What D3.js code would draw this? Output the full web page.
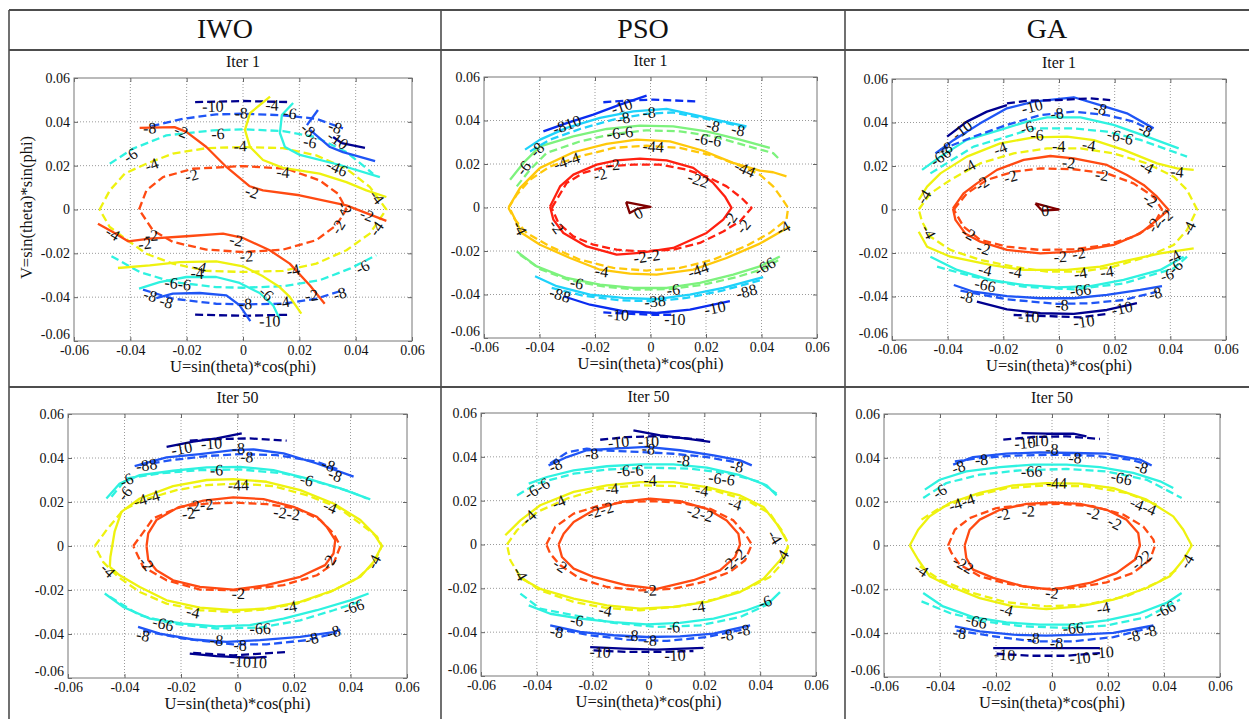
<!DOCTYPE html>
<html>
<head>
<meta charset="utf-8">
<script src="https://cdn.jsdelivr.net/npm/d3@7"></script>
<style>
body { margin: 0; background: #fff; }
svg { display: block; }
svg text { font-family: "Liberation Serif", "DejaVu Serif", "Times New Roman", serif; }
</style>
</head>
<body>
<script>
// column headers and panel titles
var methods = ['IWO', 'PSO', 'GA'];
var iterTitles = ['Iter 1', 'Iter 50'];
var tickVals = [-0.06, -0.04, -0.02, 0, 0.02, 0.04, 0.06];
var tickLabels = ['-0.06', '-0.04', '-0.02', '0', '0.02', '0.04', '0.06'];
var gridVals = [-0.04, -0.02, 0, 0.02, 0.04];
var xTitle = 'U=sin(theta)*cos(phi)';
var yTitle = 'V=sin(theta)*sin(phi)';
var serif = '"Liberation Serif", "DejaVu Serif", "Times New Roman", serif';

// contours: [level, 's' solid | 'd' dashed, [[u,v],...]]
var iwo1Contours = [
  [-10, 'd', [[-0.017, 0.049], [0, 0.0495], [0.017, 0.049]]],
  [-10, 'd', [[-0.017, -0.048], [0, -0.0485], [0.017, -0.048]]],
  [-8, 'd', [[-0.0325, 0.038], [-0.0213, 0.0414], [-0.0095, 0.0434], [0, 0.0437], [0.0142, 0.043], [0.026, 0.0414], [0.0355, 0.037]]],
  [-8, 'd', [[-0.0355, -0.0366], [-0.0249, -0.0407], [-0.0095, -0.043], [0, -0.0433], [0.0142, -0.043], [0.026, -0.0407], [0.0361, -0.0366]]],
  [-6, 'd', [[-0.0473, 0.0209], [-0.039, 0.0278], [-0.0272, 0.0338], [-0.0107, 0.0361], [0, 0.0366], [0.0142, 0.0358], [0.026, 0.033], [0.0367, 0.0262], [0.0462, 0.0163]]],
  [-6, 'd', [[-0.0467, -0.0213], [-0.0367, -0.0285], [-0.0249, -0.0331], [-0.0095, -0.0354], [0, -0.0357], [0.0142, -0.035], [0.0272, -0.0323], [0.0379, -0.027], [0.0473, -0.0209]]],
  [-4, 'd', [[-0.0509, 0], [-0.0473, 0.0087], [-0.042, 0.0164], [-0.0343, 0.0209], [-0.0249, 0.0255], [-0.013, 0.028], [0, 0.0285], [0.0142, 0.028], [0.026, 0.0247], [0.0367, 0.0186], [0.045, 0.0103], [0.0509, 0], [0.045, -0.011], [0.0367, -0.0186], [0.026, -0.0247], [0.0142, -0.028], [0, -0.0285], [-0.013, -0.028], [-0.0249, -0.0247], [-0.0343, -0.0202], [-0.0426, -0.0125], [-0.0473, -0.008], [-0.0509, 0]]],
  [-2, 'd', [[-0.0369, 0], [-0.0343, 0.0087], [-0.0284, 0.0148], [-0.0178, 0.0186], [0, 0.0198], [0.0154, 0.0186], [0.0272, 0.0133], [0.0337, 0.0072], [0.0367, 0], [0.0331, -0.0072], [0.026, -0.014], [0.0142, -0.0183], [0, -0.0194], [-0.013, -0.0183], [-0.0249, -0.0148], [-0.032, -0.0095], [-0.0369, 0]]],
  [-2, 's', [[-0.0367, 0.0372], [-0.0243, 0.0376], [-0.0201, 0.0354], [-0.013, 0.0285], [-0.0059, 0.0194], [0.0024, 0.0106], [0.0071, 0.0087], [0.0201, 0.0065], [0.0367, 0.0019], [0.0509, -0.0052]]],
  [-2, 's', [[-0.0515, -0.0065], [-0.0462, -0.0103], [-0.0408, -0.0145], [-0.0331, -0.0133], [-0.0201, -0.0122], [-0.0071, -0.011], [0, -0.013], [0.0095, -0.0186], [0.0166, -0.0247], [0.0237, -0.0346], [0.029, -0.043]]],
  [-4, 's', [[0.0096, 0.0515], [0.0025, 0.044], [0.0007, 0.0363], [0.0025, 0.0285], [0.0071, 0.0226], [0.0142, 0.019], [0.0272, 0.0164], [0.0367, 0.0125], [0.0438, 0.0087], [0.0509, 0.0057]]],
  [-4, 's', [[-0.0444, -0.0267], [-0.0331, -0.0255], [-0.0225, -0.024], [-0.0095, -0.0237], [0, -0.0259], [0.0071, -0.0305], [0.013, -0.0354], [0.0166, -0.0399], [0.0207, -0.0475]]],
  [-6, 's', [[0.0178, 0.0486], [0.0138, 0.0431], [0.0131, 0.0349], [0.0149, 0.0285], [0.0202, 0.0249], [0.0344, 0.0203], [0.0486, 0.0148]]],
  [-6, 's', [[-0.0369, -0.0361], [-0.0296, -0.0331], [-0.0201, -0.0308], [-0.0095, -0.0308], [-0.0012, -0.0335], [0.0059, -0.0381], [0.0107, -0.0437], [0.013, -0.0498]]],
  [-8, 's', [[0.0238, 0.0363], [0.0309, 0.0285], [0.0355, 0.0262], [0.0469, 0.0221]]],
  [-8, 's', [[0.0266, 0.0454], [0.0227, 0.0385]]],
  [-8, 's', [[-0.0308, -0.0404], [-0.0249, -0.0384], [-0.0154, -0.0381], [-0.0059, -0.0392], [-0.0012, -0.0437], [0.0026, -0.0509]]],
  [-10, 's', [[0.032, 0.0331], [0.0351, 0.0303], [0.0433, 0.0281]]]
];
var iwo1Labels = [
  ['-10', -0.0107, 0.0471], ['-8', -0.0006, 0.044], ['-8', -0.0331, 0.0372], ['-2', -0.0219, 0.0357],
  ['-6', -0.0089, 0.0346], ['-4', -0.001, 0.029], ['-6', -0.04, 0.0247], ['-4', -0.0325, 0.0205],
  ['-2', -0.0183, 0.0156], ['-4', 0.0103, 0.0477], ['-6', 0.0167, 0.044], ['-8', 0.0231, 0.0363],
  ['-6', 0.0238, 0.0308], ['-8', 0.0327, 0.0376], ['-10', 0.0337, 0.0317], ['-4', 0.0142, 0.0171],
  ['-46', 0.0334, 0.019], ['-2', 0.0032, 0.008], ['-4', 0.0476, 0.0057], ['-2', 0.0362, 0.0007],
  ['-2', 0.044, -0.0025], ['-4', 0.0473, -0.0087], ['-2', 0.0337, -0.008], ['-4', -0.0462, -0.011],
  ['-2', -0.0325, -0.0118], ['-2', -0.0349, -0.0156], ['-2', -0.0024, -0.014], ['-2', 0.0012, -0.0213],
  ['-4', -0.0154, -0.0262], ['-4', -0.0163, -0.0293], ['-6', 0.0424, -0.0262], ['-6-6', -0.0231, -0.0338],
  ['-4', 0.0178, -0.0277], ['-6', 0.0083, -0.0384], ['-4', 0.0142, -0.0422], ['-2', 0.0243, -0.0392],
  ['-8', 0.0343, -0.0384], ['-8', -0.0329, -0.0392], ['-8', -0.0272, -0.0422], ['-8', 0.0009, -0.043],
  ['-10', 0.0095, -0.0509]
];

var pso1Contours = [
  [-2, 's', [[-0.0362, 0.0005], [-0.0326, 0.0097], [-0.0278, 0.0151], [-0.0194, 0.0197], [-0.0122, 0.0217], [-0.0038, 0.0225], [0.0058, 0.0217], [0.0154, 0.0182], [0.0226, 0.0113], [0.0268, 0.0051], [0.0292, -0.0002], [0.0262, -0.0056], [0.0202, -0.0117], [0.0082, -0.0186], [-0.0038, -0.0209], [-0.0122, -0.0217], [-0.023, -0.0179], [-0.0314, -0.0117], [-0.035, -0.0056], [-0.0362, 0.0005]]],
  [-2, 'd', [[-0.0356, -0.0002], [-0.0302, 0.0113], [-0.0242, 0.0159], [-0.0158, 0.0189], [-0.0062, 0.0197], [0.0034, 0.0197], [0.013, 0.0174], [0.0202, 0.0143], [0.0274, 0.0097], [0.0328, 0.0044], [0.0364, -0.0002], [0.0322, -0.0064], [0.0262, -0.011], [0.0178, -0.0163], [0.0082, -0.0194], [-0.0038, -0.0202], [-0.0122, -0.0194], [-0.0206, -0.0171], [-0.0278, -0.0133], [-0.0332, -0.0071], [-0.0356, -0.0002]]],
  [-4, 's', [[-0.0509, 0.0005], [-0.047, 0.009], [-0.0398, 0.0182], [-0.0278, 0.0254], [-0.0158, 0.0293], [-0.005, 0.0312], [0.007, 0.0304], [0.019, 0.0261], [0.0298, 0.0205], [0.0394, 0.017], [0.0442, 0.0162], [0.049, 0.0143]]],
  [-4, 's', [[-0.0504, -0.0013], [-0.0464, -0.0117], [-0.0398, -0.0171], [-0.029, -0.0232], [-0.0182, -0.0286], [-0.0074, -0.0304], [0.0022, -0.0309], [0.0154, -0.0286], [0.0274, -0.0232], [0.0394, -0.0166], [0.0502, -0.0087]]],
  [-4, 'd', [[-0.0512, -0.0002], [-0.0482, 0.0059], [-0.0434, 0.0128], [-0.0362, 0.0189], [-0.0254, 0.0235], [-0.0134, 0.0274], [-0.0014, 0.0284], [0.0106, 0.0274], [0.0226, 0.0238], [0.0322, 0.0192], [0.0394, 0.0151], [0.0442, 0.0097], [0.0472, 0.0044], [0.0496, -0.0002], [0.049, -0.0056], [0.043, -0.0117], [0.0346, -0.0176], [0.0226, -0.024], [0.0106, -0.0278], [-0.0014, -0.029], [-0.0134, -0.0278], [-0.0254, -0.024], [-0.0362, -0.0179], [-0.0446, -0.0117], [-0.0488, -0.0056], [-0.0512, -0.0002]]],
  [-6, 's', [[-0.0506, 0.0128], [-0.0458, 0.0205], [-0.0398, 0.0281], [-0.0278, 0.0327], [-0.0158, 0.0361], [-0.0038, 0.0376], [0.0082, 0.0373], [0.0202, 0.035], [0.0322, 0.0312], [0.043, 0.0274]]],
  [-6, 'd', [[-0.0482, 0.0097], [-0.0434, 0.0174], [-0.0374, 0.0251], [-0.0254, 0.0304], [-0.0134, 0.0338], [-0.0014, 0.0355], [0.0106, 0.035], [0.0226, 0.0327], [0.0346, 0.0284], [0.0442, 0.025], [0.0466, 0.022]]],
  [-6, 's', [[-0.0482, -0.0202], [-0.041, -0.0271], [-0.0302, -0.0324], [-0.0182, -0.0355], [-0.0062, -0.037], [0.0058, -0.037], [0.0178, -0.0347], [0.0298, -0.0309], [0.0394, -0.0271], [0.0466, -0.0225]]],
  [-6, 'd', [[-0.047, -0.0217], [-0.0398, -0.0283], [-0.029, -0.0335], [-0.017, -0.0363], [-0.005, -0.0378], [0.007, -0.0375], [0.019, -0.0355], [0.031, -0.032], [0.0406, -0.0283], [0.046, -0.0243]]],
  [-8, 's', [[-0.0452, 0.0266], [-0.0398, 0.0312], [-0.0302, 0.0366], [-0.0182, 0.0412], [-0.0062, 0.0442], [0.0058, 0.0453], [0.0154, 0.0427], [0.0262, 0.0396], [0.0346, 0.0373]]],
  [-8, 'd', [[-0.0434, 0.0258], [-0.0362, 0.0312], [-0.0254, 0.0361], [-0.0134, 0.0404], [-0.0014, 0.0431], [0.0082, 0.0437], [0.0202, 0.0407], [0.0298, 0.0381], [0.0352, 0.0366]]],
  [-8, 's', [[-0.0416, -0.0316], [-0.0338, -0.0362], [-0.0218, -0.0401], [-0.0098, -0.0416], [0.0022, -0.0421], [0.0142, -0.0401], [0.0262, -0.037], [0.0406, -0.032]]],
  [-8, 'd', [[-0.0356, -0.037], [-0.0242, -0.0406], [-0.011, -0.0427], [0.001, -0.0431], [0.013, -0.0416], [0.0262, -0.0381], [0.0394, -0.0335]]],
  [-10, 's', [[-0.0386, 0.035], [-0.0302, 0.0388], [-0.0206, 0.0427], [-0.011, 0.0473], [-0.0014, 0.0514]]],
  [-10, 'd', [[-0.017, 0.0484], [-0.0086, 0.0491], [0.001, 0.0496], [0.0166, 0.0488]]],
  [-10, 's', [[-0.0314, -0.0408], [-0.0218, -0.0447], [-0.0098, -0.0477], [0.0022, -0.0485], [0.0142, -0.047], [0.0286, -0.0431]]],
  [-10, 'd', [[-0.017, -0.0482], [-0.0086, -0.0488], [0.001, -0.0493], [0.0082, -0.0493]]],
  [0, 's', [[-0.0088, 0.0025], [0, 0.0003], [-0.0045, -0.0005], [-0.0075, -0.0025], [-0.0088, 0.0025]]]
];
var pso1Labels = [
  ['-10', -0.0104, 0.0465], ['-8', -0.0005, 0.0437], ['-810', -0.0302, 0.0381], ['-8', -0.0098, 0.0411],
  ['-8', 0.0226, 0.0376], ['-8', 0.0316, 0.0357], ['-6-6', -0.011, 0.0343], ['-6-6', 0.0208, 0.0312],
  ['-8', -0.041, 0.0266], ['-6', -0.0458, 0.0182], ['-44', 0.001, 0.0281], ['-4-4', -0.0302, 0.0214],
  ['-2', -0.0134, 0.0197], ['-2', -0.0182, 0.0151], ['-22', 0.0172, 0.0128], ['-44', 0.034, 0.0177],
  ['0', -0.0044, -0.0026], ['-2', 0.0286, -0.0056], ['-2', 0.0334, -0.0087], ['-4', 0.0478, -0.0094],
  ['-4', -0.047, -0.0094], ['-2', -0.0338, -0.0087], ['-2-2', -0.0014, -0.0225], ['-4', -0.0176, -0.0293],
  ['-44', 0.0172, -0.0286], ['-66', 0.0412, -0.0271], ['-6', -0.0266, -0.0347], ['-88', -0.0326, -0.0401],
  ['-6', 0.0082, -0.0378], ['-88', 0.0346, -0.0386], ['-38', 0.0016, -0.0431], ['-10', -0.0116, -0.0493],
  ['-10', 0.0088, -0.0513], ['-10', 0.0232, -0.0462]
];

var ga1Contours = [
  [-2, 's', [[-0.0381, 0.0005], [-0.0343, 0.0074], [-0.0295, 0.012], [-0.0223, 0.0182], [-0.0127, 0.0228], [-0.0031, 0.0246], [0.0053, 0.0235], [0.0172, 0.0205], [0.0244, 0.0159], [0.0304, 0.0113], [0.0352, 0.0059], [0.0394, -0.0002], [0.0352, -0.0048], [0.0292, -0.011], [0.0196, -0.0163], [0.0053, -0.0194], [-0.0067, -0.0202], [-0.0187, -0.0186], [-0.0283, -0.0148], [-0.0337, -0.011], [-0.0372, -0.0048], [-0.0381, 0.0005]]],
  [-2, 'd', [[-0.0378, 0], [-0.0331, 0.0074], [-0.0259, 0.0136], [-0.0163, 0.0174], [-0.0067, 0.0189], [0.0053, 0.0185], [0.0172, 0.0166], [0.0268, 0.012], [0.034, 0.0059], [0.037, 0], [0.034, -0.0071], [0.0268, -0.0125], [0.0172, -0.0163], [0.0053, -0.0183], [-0.0067, -0.0186], [-0.0187, -0.0171], [-0.0283, -0.014], [-0.0343, -0.0079], [-0.0378, 0]]],
  [-4, 's', [[-0.0504, 0.0044], [-0.0474, 0.0105], [-0.0426, 0.0166], [-0.0331, 0.0243], [-0.0211, 0.0304], [-0.0091, 0.0332], [0.0029, 0.0335], [0.0125, 0.0319], [0.0232, 0.0274], [0.0352, 0.0212], [0.0424, 0.0189], [0.0484, 0.0182]]],
  [-4, 's', [[-0.0504, -0.0102], [-0.0474, -0.0171], [-0.039, -0.0217], [-0.0247, -0.0255], [-0.0127, -0.0278], [0.0029, -0.0278], [0.0148, -0.0263], [0.0256, -0.0232], [0.0364, -0.0202], [0.0484, -0.0179]]],
  [-4, 'd', [[-0.0504, 0], [-0.0462, 0.0074], [-0.039, 0.0136], [-0.0283, 0.0212], [-0.0163, 0.0258], [-0.0043, 0.0281], [0.0077, 0.0281], [0.0196, 0.0258], [0.0316, 0.0212], [0.0412, 0.0151], [0.046, 0.009], [0.0496, 0], [0.046, -0.0094], [0.0412, -0.0163], [0.0316, -0.0217], [0.0196, -0.0263], [0.0077, -0.0286], [-0.0043, -0.0286], [-0.0163, -0.0263], [-0.0283, -0.0232], [-0.039, -0.0186], [-0.0462, -0.0125], [-0.0492, -0.0056], [-0.0504, 0]]],
  [-6, 's', [[-0.0492, 0.0182], [-0.0426, 0.0243], [-0.0331, 0.032], [-0.0211, 0.0366], [-0.0115, 0.0404], [-0.0043, 0.0424], [0.0077, 0.0424], [0.0196, 0.0389], [0.0316, 0.0335], [0.043, 0.0281]]],
  [-6, 'd', [[-0.0462, 0.0166], [-0.0307, 0.0289], [-0.0187, 0.0335], [-0.0091, 0.0373], [0.0053, 0.0373], [0.0172, 0.0358], [0.0292, 0.032], [0.046, 0.0243]]],
  [-6, 's', [[-0.0462, -0.0217], [-0.0366, -0.0278], [-0.0247, -0.0324], [-0.0127, -0.0347], [-0.0007, -0.0358], [0.0113, -0.0352], [0.0232, -0.0324], [0.0364, -0.0278], [0.0448, -0.0217]]],
  [-6, 'd', [[-0.0438, -0.0263], [-0.0307, -0.0309], [-0.0127, -0.0355], [0.0053, -0.0367], [0.0232, -0.034], [0.0412, -0.0271], [0.046, -0.0217]]],
  [-8, 's', [[-0.0444, 0.0258], [-0.0378, 0.032], [-0.0283, 0.0396], [-0.0187, 0.0465], [-0.0091, 0.0496], [0.0053, 0.0516], [0.0148, 0.048], [0.0244, 0.0442], [0.034, 0.0373]]],
  [-8, 'd', [[-0.0426, 0.0274], [-0.0307, 0.0335], [-0.0187, 0.0389], [-0.0067, 0.0434], [0.0053, 0.045], [0.0172, 0.0434], [0.0268, 0.0404], [0.0328, 0.0366]]],
  [-8, 's', [[-0.0378, -0.0347], [-0.0307, -0.0378], [-0.0187, -0.0398], [-0.0067, -0.0408], [0.0053, -0.0408], [0.0172, -0.0393], [0.0292, -0.037], [0.037, -0.0352]]],
  [-8, 'd', [[-0.0354, -0.0373], [-0.0187, -0.0413], [-0.0007, -0.0434], [0.0113, -0.0431], [0.0232, -0.0416], [0.0352, -0.0378]]],
  [-10, 's', [[-0.0402, 0.0335], [-0.0331, 0.0404], [-0.0259, 0.045], [-0.0187, 0.048]]],
  [-10, 'd', [[-0.0187, 0.0488], [-0.0115, 0.05], [-0.0007, 0.0503], [0.0113, 0.0511], [0.0184, 0.0503]]],
  [-10, 's', [[-0.0295, -0.0424], [-0.0187, -0.0459], [-0.0067, -0.0477], [0.0053, -0.048], [0.0172, -0.0462], [0.028, -0.0431]]],
  [-10, 'd', [[-0.0163, -0.0485], [-0.0043, -0.049], [0.0077, -0.0496], [0.0172, -0.048]]],
  [0, 's', [[-0.0085, 0.0028], [-0.0001, 0], [-0.0061, -0.0005], [-0.0085, 0.0028]]]
];
var ga1Labels = [
  ['-10', -0.0097, 0.0473], ['-8', 0.0148, 0.0465], ['-8', -0.0007, 0.0442], ['-10', -0.0349, 0.0366],
  ['-8', -0.0408, 0.0281], ['-6', -0.0115, 0.0377], ['-6', -0.0079, 0.0343], ['-6-6', 0.022, 0.0335],
  ['-8', 0.031, 0.0366], ['-66', -0.0426, 0.0243], ['-4', -0.0211, 0.0281], ['-4', -0.0001, 0.0289],
  ['-4', 0.0107, 0.0297], ['-4', -0.0325, 0.0197], ['-2', 0.0035, 0.0215], ['-2', -0.0175, 0.0151],
  ['-2', -0.0277, 0.012], ['-2', 0.0154, 0.0159], ['-4', 0.0316, 0.0197], ['-4', 0.0424, 0.0174],
  ['-4', -0.0486, 0.0059], ['-2', 0.0328, 0.0044], ['-2', 0.0382, -0.0033], ['-2', 0.034, -0.0071],
  ['-4', 0.0466, -0.0087], ['-4', -0.0468, -0.0102], ['-2', -0.0325, -0.011], ['-2', -0.0271, -0.0179],
  ['-2', 0.0005, -0.0217], ['-2', 0.0071, -0.0202], ['-4', 0.0412, -0.0217], ['-6', 0.0418, -0.0263],
  ['-6', 0.0388, -0.0301], ['-4', -0.0265, -0.0278], ['-4', -0.0157, -0.0286], ['-4', 0.0077, -0.0293],
  ['-4', 0.0172, -0.0286], ['-66', -0.0265, -0.0347], ['-66', 0.0077, -0.037], ['-8', -0.0331, -0.0401],
  ['-8', 0.0011, -0.0439], ['-8', 0.0346, -0.0386], ['-10', -0.0109, -0.0493], ['-10', 0.0089, -0.0516],
  ['-10', 0.0226, -0.0454], ['0', -0.005, -0.0005]
];

var iwo50Contours = [
  [-2, 's', [[-0.0322, 0], [-0.0316, 0.0057], [-0.0287, 0.0118], [-0.0216, 0.0171], [-0.0121, 0.0206], [-0.0015, 0.0221], [0.0092, 0.0213], [0.0198, 0.0178], [0.0281, 0.0133], [0.0316, 0.0087], [0.0346, 0.0027], [0.034, -0.0034], [0.031, -0.0087], [0.0222, -0.014], [0.0103, -0.0178], [-0.0015, -0.0198], [-0.0133, -0.0186], [-0.0228, -0.0156], [-0.0287, -0.011], [-0.0316, -0.0064], [-0.0322, 0]]],
  [-2, 'd', [[-0.0369, 0], [-0.0328, 0.0072], [-0.0299, 0.0125], [-0.0204, 0.0178], [-0.0109, 0.0193], [-0.0003, 0.0197], [0.0103, 0.019], [0.021, 0.0171], [0.0293, 0.0118], [0.034, 0.0057], [0.0364, 0], [0.034, -0.008], [0.0281, -0.0133], [0.0163, -0.0178], [0.0009, -0.0201], [-0.0133, -0.0198], [-0.0251, -0.0156], [-0.0334, -0.0095], [-0.0369, 0]]],
  [-4, 's', [[-0.0452, -0.0095], [-0.045, -0.005], [-0.0435, 0.0065], [-0.0411, 0.0155], [-0.0346, 0.0216], [-0.0228, 0.0272], [-0.0109, 0.03], [-0.0015, 0.0304], [0.0103, 0.0292], [0.0222, 0.0254], [0.034, 0.0193], [0.0435, 0.0118], [0.0482, 0.0057], [0.0511, 0], [0.0482, -0.0072], [0.0435, -0.014], [0.034, -0.0201], [0.0222, -0.0254], [0.0103, -0.0284], [-0.0015, -0.0292], [-0.0133, -0.028], [-0.0251, -0.0247], [-0.0346, -0.0186], [-0.0417, -0.0133], [-0.0452, -0.0095]]],
  [-4, 'd', [[-0.0505, 0], [-0.0464, 0.0072], [-0.0405, 0.0163], [-0.0334, 0.0209], [-0.0216, 0.0254], [-0.0109, 0.0277], [0.0009, 0.0284], [0.0127, 0.0272], [0.0245, 0.0231], [0.0352, 0.0178], [0.0435, 0.0102], [0.0494, 0.0042], [0.0511, 0], [0.0482, -0.008], [0.0423, -0.0148], [0.0328, -0.0209], [0.021, -0.0262], [0.0092, -0.0289], [-0.0015, -0.03], [-0.0133, -0.0292], [-0.0251, -0.0262], [-0.0346, -0.0209], [-0.0423, -0.014], [-0.0476, -0.0072], [-0.0505, 0]]],
  [-6, 's', [[-0.0464, 0.0216], [-0.0417, 0.0284], [-0.0346, 0.0322], [-0.0228, 0.0342], [-0.0109, 0.0357], [0.0009, 0.036], [0.0127, 0.0345], [0.0245, 0.0307], [0.0364, 0.0262], [0.047, 0.0212]]],
  [-6, 'd', [[-0.0446, 0.0224], [-0.0393, 0.0307], [-0.0275, 0.033], [-0.0133, 0.0345], [0.0009, 0.0348], [0.0163, 0.033], [0.0281, 0.0292], [0.0399, 0.0247], [0.0458, 0.0216]]],
  [-6, 's', [[-0.047, -0.0216], [-0.0405, -0.0277], [-0.031, -0.033], [-0.0192, -0.0353], [-0.0074, -0.0365], [0.0044, -0.036], [0.0163, -0.033], [0.0281, -0.0292], [0.0399, -0.0247], [0.0464, -0.0216]]],
  [-6, 'd', [[-0.0452, -0.0231], [-0.0346, -0.0315], [-0.0228, -0.0353], [-0.0074, -0.0375], [0.008, -0.0371], [0.0222, -0.0338], [0.034, -0.0292], [0.0446, -0.0247]]],
  [-8, 's', [[-0.0364, 0.0363], [-0.0251, 0.0403], [-0.0133, 0.0418], [-0.0015, 0.0436], [0.0056, 0.0439], [0.0163, 0.0421], [0.0281, 0.0375], [0.0411, 0.0315]]],
  [-8, 'd', [[-0.0346, 0.0368], [-0.0228, 0.0391], [-0.0109, 0.0409], [0.0009, 0.0418], [0.0139, 0.0413], [0.0281, 0.0383], [0.0364, 0.0345]]],
  [-8, 's', [[-0.0352, -0.0368], [-0.0275, -0.0398], [-0.0157, -0.0425], [-0.0038, -0.0436], [0.008, -0.0428], [0.0222, -0.0413], [0.034, -0.0391], [0.0364, -0.038]]],
  [-8, 'd', [[-0.0334, -0.0386], [-0.0192, -0.0421], [-0.0015, -0.0447], [0.0103, -0.0447], [0.0245, -0.0428], [0.0352, -0.0395]]],
  [-10, 's', [[-0.0251, 0.0451], [-0.0157, 0.0474], [-0.0074, 0.0489], [0.0015, 0.0512]]],
  [-10, 'd', [[-0.0169, 0.0479], [-0.0074, 0.0486], [0.0044, 0.0489], [0.0174, 0.0479]]],
  [-10, 's', [[-0.0169, -0.0489], [-0.0074, -0.0501], [0.0044, -0.0508], [0.0103, -0.0504]]],
  [-10, 'd', [[-0.0157, -0.0486], [-0.0015, -0.0497], [0.0174, -0.0482]]]
];
var iwo50Labels = [
  ['-10', -0.0198, 0.0443], ['-10', -0.0092, 0.0466], ['-8', 0.0003, 0.0444], ['-8', 0.0033, 0.0406],
  ['-88', -0.0322, 0.0368], ['-8', 0.0322, 0.0368], ['-8', 0.0346, 0.0322], ['-6', -0.0074, 0.0345],
  ['-6', 0.0245, 0.03], ['-6', -0.0393, 0.03], ['-6', -0.0399, 0.0239], ['-4-4', -0.0322, 0.0216],
  ['-44', 0.0003, 0.0277], ['-4', 0.0328, 0.0178], ['-2-2', -0.0133, 0.0186], ['-2', -0.0174, 0.0148],
  ['-2-2', 0.0174, 0.0148], ['-2', 0.0322, -0.0072], ['-4', 0.0482, -0.0072], ['-4', -0.0458, -0.011],
  ['-2', -0.0322, -0.008], ['-2', 0.0003, -0.0216], ['-4', -0.0157, -0.03], ['-4', 0.0186, -0.0277],
  ['-66', 0.0411, -0.0277], ['-66', -0.0263, -0.0353], ['-66', 0.008, -0.0375], ['-8', -0.0334, -0.0406],
  ['-8', -0.0074, -0.0428], ['-8', 0.0009, -0.0451], ['-8', 0.0263, -0.0421], ['-8', 0.034, -0.039],
  ['-1010', 0.0038, -0.0527]
];

var pso50Contours = [
  [-2, 's', [[-0.0322, 0], [-0.0304, 0.0049], [-0.0268, 0.0103], [-0.0197, 0.0156], [-0.0101, 0.0194], [0.0006, 0.0209], [0.0113, 0.0198], [0.0209, 0.0163], [0.028, 0.011], [0.0322, 0.0049], [0.0328, 0], [0.031, -0.0057], [0.0256, -0.0118], [0.0161, -0.0163], [0.003, -0.0202], [-0.0078, -0.0186], [-0.0197, -0.0148], [-0.0268, -0.011], [-0.031, -0.0057], [-0.0322, 0]]],
  [-2, 'd', [[-0.0366, 0], [-0.0334, 0.008], [-0.0268, 0.0141], [-0.0173, 0.0179], [-0.0078, 0.0194], [0.0018, 0.0198], [0.0113, 0.019], [0.0221, 0.0163], [0.0304, 0.011], [0.0346, 0.0049], [0.037, 0], [0.0346, -0.0072], [0.0292, -0.0125], [0.0197, -0.0171], [0.0089, -0.0202], [-0.003, -0.0209], [-0.0149, -0.0194], [-0.0245, -0.0156], [-0.0316, -0.0095], [-0.0352, -0.0042], [-0.0366, 0]]],
  [-4, 's', [[-0.0513, 0.0042], [-0.0459, 0.011], [-0.0388, 0.0179], [-0.0268, 0.024], [-0.0149, 0.027], [-0.003, 0.0285], [0.0089, 0.0285], [0.0209, 0.0262], [0.0328, 0.0224], [0.0412, 0.0171], [0.0459, 0.0095], [0.0495, 0.0019]]],
  [-4, 's', [[-0.0465, -0.0148], [-0.0388, -0.0202], [-0.0268, -0.0247], [-0.0149, -0.0278], [-0.003, -0.0293], [0.0089, -0.0285], [0.0209, -0.0262], [0.0328, -0.0217], [0.0412, -0.0156], [0.0471, -0.0072], [0.0501, -0.0011]]],
  [-4, 'd', [[-0.0507, 0], [-0.0471, 0.0065], [-0.04, 0.0148], [-0.0292, 0.0209], [-0.0173, 0.0255], [-0.003, 0.027], [0.0113, 0.0266], [0.0233, 0.0247], [0.0352, 0.0202], [0.0435, 0.0141], [0.0477, 0.0065], [0.0501, 0], [0.0483, -0.008], [0.0435, -0.0148], [0.0352, -0.0202], [0.0233, -0.0251], [0.0113, -0.0282], [-0.003, -0.03], [-0.0149, -0.029], [-0.0268, -0.0262], [-0.0388, -0.0209], [-0.0459, -0.0148], [-0.0495, -0.0072], [-0.0507, 0]]],
  [-6, 's', [[-0.0429, 0.0278], [-0.0364, 0.0308], [-0.0268, 0.0338], [-0.0149, 0.0357], [-0.003, 0.0366], [0.0089, 0.0366], [0.0209, 0.0351], [0.0328, 0.0316], [0.0423, 0.027], [0.0459, 0.0224]]],
  [-6, 'd', [[-0.0471, 0.0224], [-0.04, 0.0278], [-0.0268, 0.0323], [-0.0149, 0.0342], [-0.0006, 0.0351], [0.0149, 0.0346], [0.0292, 0.0323], [0.04, 0.0285], [0.0459, 0.0232]]],
  [-6, 's', [[-0.0429, -0.0278], [-0.0352, -0.0316], [-0.0245, -0.0338], [-0.0125, -0.0354], [-0.0006, -0.0364], [0.0113, -0.0358], [0.0233, -0.0338], [0.0352, -0.03], [0.0435, -0.0262], [0.0471, -0.0217]]],
  [-6, 'd', [[-0.0459, -0.0224], [-0.0388, -0.0293], [-0.0268, -0.0323], [-0.0125, -0.0358], [0.003, -0.0376], [0.0185, -0.0369], [0.0328, -0.0331], [0.0447, -0.0262]]],
  [-8, 's', [[-0.0358, 0.0361], [-0.0292, 0.0399], [-0.0221, 0.043], [-0.0125, 0.0437], [-0.0006, 0.0445], [0.0113, 0.043], [0.0233, 0.0407], [0.0328, 0.0384], [0.037, 0.0361]]],
  [-8, 'd', [[-0.0352, 0.037], [-0.0292, 0.042], [-0.0221, 0.0437], [-0.0173, 0.043], [-0.003, 0.0422], [0.0089, 0.0414], [0.0209, 0.0399], [0.0328, 0.0372]]],
  [-8, 's', [[-0.0352, -0.0369], [-0.0245, -0.0399], [-0.0125, -0.0414], [-0.0006, -0.0422], [0.0113, -0.0419], [0.0233, -0.0407], [0.0364, -0.0369]]],
  [-8, 'd', [[-0.0334, -0.0384], [-0.0209, -0.0414], [-0.0078, -0.0434], [0.0066, -0.044], [0.0209, -0.0422], [0.0352, -0.0384]]],
  [-10, 's', [[-0.0054, 0.0521], [0.0042, 0.0498], [0.0137, 0.0483], [0.0221, 0.0468]]],
  [-10, 'd', [[-0.0173, 0.0478], [-0.0078, 0.049], [0.0018, 0.0494], [0.0113, 0.0487], [0.0209, 0.0475]]],
  [-10, 's', [[-0.0209, -0.0468], [-0.0089, -0.0475], [0.003, -0.048], [0.0197, -0.0472]]],
  [-10, 'd', [[-0.0197, -0.0483], [-0.0078, -0.049], [0.0042, -0.049], [0.0161, -0.0486]]]
];
var pso50Labels = [
  ['-10', -0.0107, 0.0468], ['-10', 0, 0.0471], ['-8', 0, 0.0437], ['-8', -0.0203, 0.0414],
  ['-8', 0.0125, 0.0384], ['-8', 0.0316, 0.0357], ['-8', -0.0334, 0.0361], ['-6-6', -0.0066, 0.0338],
  ['-6-6', 0.0262, 0.03], ['-6-6', -0.04, 0.0255], ['-4', 0.0006, 0.0293], ['-4', -0.0131, 0.0255],
  ['-4', 0.0191, 0.0247], ['-4', -0.0322, 0.0194], ['-4', 0.031, 0.0186], ['-4', -0.0429, 0.0125],
  ['-2-2', -0.0173, 0.0156], ['-2-2', 0.0185, 0.0141], ['-4', 0.0453, 0.0034], ['-4', 0.0477, -0.0057],
  ['-2-2', 0.0304, -0.0072], ['-2', -0.0316, -0.0095], ['-4', -0.0459, -0.0133], ['-2', 0.0006, -0.0209],
  ['-4', -0.0155, -0.03], ['-4', 0.0179, -0.0285], ['-6', 0.0417, -0.0262], ['-6', -0.0256, -0.0346],
  ['-6', 0.0089, -0.0376], ['-8', -0.0328, -0.0399], ['-8', -0.006, -0.0414], ['-8', 0.0006, -0.0437],
  ['-8', 0.028, -0.0414], ['-8', 0.034, -0.0392], ['-10', -0.0173, -0.049], ['-10', 0.0095, -0.0506]
];

var ga50Contours = [
  [-2, 's', [[-0.0312, 0], [-0.0294, 0.0072], [-0.0258, 0.0118], [-0.0186, 0.0163], [-0.0091, 0.019], [0.0004, 0.0197], [0.01, 0.019], [0.0195, 0.0163], [0.0266, 0.0118], [0.0308, 0.0057], [0.0314, 0], [0.0296, -0.0065], [0.0231, -0.0125], [0.0135, -0.0171], [0.0004, -0.0202], [-0.0103, -0.0186], [-0.021, -0.0148], [-0.0282, -0.011], [-0.0306, -0.0057], [-0.0312, 0]]],
  [-2, 'd', [[-0.0371, 0], [-0.0347, 0.0072], [-0.0294, 0.0125], [-0.0198, 0.0171], [-0.0091, 0.0186], [0.0028, 0.019], [0.0147, 0.0179], [0.0254, 0.0141], [0.0326, 0.0087], [0.0362, 0.0027], [0.0368, 0], [0.035, -0.0065], [0.029, -0.0125], [0.0195, -0.0168], [0.0076, -0.0194], [-0.0043, -0.0198], [-0.0163, -0.0174], [-0.0258, -0.014], [-0.033, -0.0087], [-0.0359, -0.0034], [-0.0371, 0]]],
  [-4, 's', [[-0.0508, 0], [-0.0478, 0.0072], [-0.0437, 0.0133], [-0.0365, 0.0194], [-0.0258, 0.024], [-0.0139, 0.0274], [-0.002, 0.0285], [0.01, 0.0282], [0.0219, 0.0262], [0.0338, 0.0209], [0.0433, 0.0133], [0.0469, 0.0072], [0.0499, 0], [0.0469, -0.0065], [0.0421, -0.014], [0.0338, -0.0194], [0.0219, -0.0247], [0.01, -0.0278], [-0.002, -0.029], [-0.0139, -0.0278], [-0.0258, -0.024], [-0.0365, -0.0186], [-0.0437, -0.014], [-0.0478, -0.0065], [-0.0508, 0]]],
  [-4, 'd', [[-0.0466, 0.0118], [-0.0401, 0.0171], [-0.0282, 0.0224], [-0.0163, 0.0262], [-0.002, 0.0274], [0.0123, 0.027], [0.0266, 0.024], [0.0374, 0.0186]]],
  [-4, 'd', [[-0.0472, -0.0095], [-0.0401, -0.0156], [-0.0282, -0.0217], [-0.0163, -0.0259], [-0.002, -0.0278], [0.0123, -0.027], [0.0266, -0.0232], [0.0386, -0.0163], [0.0445, -0.011]]],
  [-6, 's', [[-0.0454, 0.0255], [-0.0401, 0.03], [-0.0306, 0.0338], [-0.0186, 0.0358], [-0.0067, 0.0369], [0.0052, 0.0369], [0.0171, 0.0358], [0.029, 0.0331], [0.0386, 0.0293], [0.0433, 0.0262]]],
  [-6, 'd', [[-0.046, 0.0217], [-0.0377, 0.0285], [-0.0258, 0.0323], [-0.0115, 0.0343], [0.0052, 0.0349], [0.0195, 0.0338], [0.0338, 0.03], [0.0463, 0.0217]]],
  [-6, 's', [[-0.046, -0.0217], [-0.0389, -0.0278], [-0.0282, -0.0327], [-0.0163, -0.0351], [-0.0043, -0.0361], [0.0076, -0.0361], [0.0195, -0.0342], [0.0314, -0.0308], [0.0409, -0.0262], [0.0463, -0.0217]]],
  [-6, 'd', [[-0.0466, -0.0255], [-0.0365, -0.0308], [-0.0246, -0.0346], [-0.0103, -0.0369], [0.0052, -0.0376], [0.0195, -0.0365], [0.0338, -0.0327], [0.0457, -0.0247]]],
  [-8, 's', [[-0.0353, 0.0369], [-0.0282, 0.0403], [-0.0163, 0.0419], [-0.0043, 0.0425], [0.0076, 0.0422], [0.0195, 0.0419], [0.0314, 0.0392], [0.0356, 0.0365]]],
  [-8, 'd', [[-0.0347, 0.0384], [-0.0258, 0.0399], [-0.0139, 0.041], [0.0004, 0.0414], [0.0147, 0.041], [0.0278, 0.0392], [0.0344, 0.0369]]],
  [-8, 's', [[-0.0347, -0.0369], [-0.0258, -0.0392], [-0.0139, -0.0407], [-0.002, -0.0411], [0.01, -0.0407], [0.0219, -0.0399], [0.0362, -0.0365]]],
  [-8, 'd', [[-0.0341, -0.0388], [-0.021, -0.0414], [-0.0067, -0.0437], [0.0076, -0.0437], [0.0219, -0.0418], [0.035, -0.0376]]],
  [-10, 's', [[-0.0109, 0.0513], [-0.002, 0.051], [0.0076, 0.051], [0.0123, 0.0498]]],
  [-10, 'd', [[-0.0174, 0.0483], [-0.0067, 0.0495], [0.0052, 0.0498], [0.0171, 0.0486]]],
  [-10, 's', [[-0.021, -0.0468], [-0.0091, -0.0468], [0.0028, -0.0468], [0.0171, -0.0468]]],
  [-10, 'd', [[-0.0198, -0.0494], [-0.0079, -0.0503], [0.0052, -0.0503], [0.0171, -0.0491]]]
];
var ga50Labels = [
  ['-10', -0.0097, 0.0468], ['-10', -0.005, 0.0478], ['-8', 0, 0.044], ['-8', -0.0252, 0.0392],
  ['-8', 0.0082, 0.04], ['-8', 0.032, 0.0358], ['-8', -0.0335, 0.0358], ['-66', -0.0073, 0.0338],
  ['-66', 0.0248, 0.0308], ['-6', -0.0401, 0.0247], ['-44', 0.0016, 0.0285], ['-4-4', -0.0323, 0.0197],
  ['-4-4', 0.0326, 0.0179], ['-2', -0.0175, 0.0141], ['-2', -0.0085, 0.0156], ['-2', 0.0147, 0.0148],
  ['-2', 0.0225, 0.0103], ['-22', -0.0317, -0.0087], ['-22', 0.032, -0.0065], ['-4', -0.0466, -0.011],
  ['-4', 0.0481, -0.0072], ['-2', 0, -0.0217], ['-4', -0.0163, -0.0293], ['-4', 0.0183, -0.0285],
  ['-66', 0.0404, -0.0293], ['-66', -0.027, -0.0346], ['-66', 0.0076, -0.0376], ['-8', -0.033, -0.0399],
  ['-8', -0.0067, -0.0422], ['-8', 0.0016, -0.0445], ['-8', 0.029, -0.0414], ['-8', 0.035, -0.0392],
  ['-10', -0.0169, -0.0498], ['-10', 0.01, -0.0513], ['-10', 0.0183, -0.0487]
];

// level colours (jet over -10..0, and over -12..0 for PSO Iter 1)
var jetColors = { '-10': '#00008f', '-8': '#1f55f5', '-6': '#2ef2e0', '-4': '#eef20f', '-2': '#ff4a12', '0': '#800000' };
var psoColors = { '-10': '#0a2cf0', '-8': '#1ed2fa', '-6': '#7df27d', '-4': '#ffc80a', '-2': '#ff2010', '0': '#800000' };

var panels = [
  { col: 0, row: 0, box: [74, 412, 78, 341], contours: iwo1Contours, labels: iwo1Labels, colors: jetColors, ylab: true },
  { col: 1, row: 0, box: [484, 817, 77, 338], contours: pso1Contours, labels: pso1Labels, colors: psoColors },
  { col: 2, row: 0, box: [892, 1226, 79, 340], contours: ga1Contours, labels: ga1Labels, colors: jetColors },
  { col: 0, row: 1, box: [68, 407, 414, 678], contours: iwo50Contours, labels: iwo50Labels, colors: jetColors },
  { col: 1, row: 1, box: [481, 816, 413, 676], contours: pso50Contours, labels: pso50Labels, colors: jetColors },
  { col: 2, row: 1, box: [884, 1220, 414, 677], contours: ga50Contours, labels: ga50Labels, colors: jetColors }
];

var W = 1249, H = 719;
var svg = d3.select('body').append('svg').attr('width', W).attr('height', H)
  .attr('font-family', serif);

// table frame
var colX = [9, 441, 845];
var headCx = [225, 643, 1047];
var tbl = svg.append('g').attr('stroke', '#4d4d4d');
tbl.append('line').attr('x1', 9).attr('x2', W).attr('y1', 10).attr('y2', 10).attr('stroke-width', 2);
tbl.append('line').attr('x1', 9).attr('x2', W).attr('y1', 50).attr('y2', 50).attr('stroke-width', 2);
tbl.append('line').attr('x1', 9).attr('x2', W).attr('y1', 387).attr('y2', 387).attr('stroke-width', 2);
tbl.selectAll('.vl').data(colX).join('line')
  .attr('x1', d => d).attr('x2', d => d).attr('y1', 10).attr('y2', H)
  .attr('stroke-width', 1.6);

svg.selectAll('.head').data(methods).join('text')
  .attr('x', (d, i) => headCx[i]).attr('y', 38)
  .attr('text-anchor', 'middle').attr('font-size', 28).attr('font-family', serif).attr('fill', '#111')
  .text(d => d);

panels.forEach(function (p) {
  var x0 = p.box[0], x1 = p.box[1], y0 = p.box[2], y1 = p.box[3];
  var x = d3.scaleLinear().domain([-0.06, 0.06]).range([x0, x1]);
  var y = d3.scaleLinear().domain([-0.06, 0.06]).range([y1, y0]);
  var g = svg.append('g');

  // dotted grid
  g.selectAll('.gx').data(gridVals).join('line')
    .attr('x1', d => x(d)).attr('x2', d => x(d)).attr('y1', y0).attr('y2', y1)
    .attr('stroke', '#9a9a9a').attr('stroke-dasharray', '1,2');
  g.selectAll('.gy').data(gridVals).join('line')
    .attr('y1', d => y(d)).attr('y2', d => y(d)).attr('x1', x0).attr('x2', x1)
    .attr('stroke', '#9a9a9a').attr('stroke-dasharray', '1,2');

  var fmt = d => tickLabels[tickVals.indexOf(d)];
  var styleAxis = function (a) {
    a.attr('font-size', 14).attr('font-family', serif);
    a.select('.domain').remove();
    a.selectAll('.tick line').attr('stroke', '#666');
    a.selectAll('.tick text').attr('fill', '#111');
  };
  g.append('g').attr('transform', 'translate(0,' + y1 + ')')
    .call(d3.axisBottom(x).tickValues(tickVals).tickFormat(fmt).tickSize(-4).tickSizeOuter(0).tickPadding(4)).call(styleAxis);
  var yAx = g.append('g').attr('transform', 'translate(' + x0 + ',0)')
    .call(d3.axisLeft(y).tickValues(tickVals).tickFormat(fmt).tickSize(-4).tickSizeOuter(0).tickPadding(4)).call(styleAxis);
  // the lowest y label sits just above the x labels, as MATLAB draws it
  yAx.selectAll('.tick text').filter(d => d === tickVals[0]).attr('dy', '-0.2em');
  g.append('g').attr('transform', 'translate(0,' + y0 + ')')
    .call(d3.axisTop(x).tickValues(tickVals).tickFormat('').tickSize(-4).tickSizeOuter(0)).call(styleAxis);
  g.append('g').attr('transform', 'translate(' + x1 + ',0)')
    .call(d3.axisRight(y).tickValues(tickVals).tickFormat('').tickSize(-4).tickSizeOuter(0)).call(styleAxis);

  g.append('rect').attr('x', x0).attr('y', y0).attr('width', x1 - x0).attr('height', y1 - y0)
    .attr('fill', 'none').attr('stroke', '#777').attr('stroke-width', 1);

  // contour lines
  var line = d3.line().x(d => x(d[0])).y(d => y(d[1]));
  g.selectAll('.ctr').data(p.contours).join('path')
    .attr('d', d => line(d[2]))
    .attr('fill', 'none')
    .attr('stroke', d => p.colors[String(d[0])])
    .attr('stroke-width', 2.3)
    .attr('stroke-linejoin', 'round')
    .attr('stroke-dasharray', d => d[1] === 'd' ? '8,4' : null);

  // clabel-style text, rotated along the closest contour segment
  function angleAt(px, py) {
    var best = Infinity, ang = 0;
    p.contours.forEach(function (c) {
      var pts = c[2];
      for (var i = 0; i < pts.length - 1; i++) {
        var ax = x(pts[i][0]), ay = y(pts[i][1]), bx = x(pts[i + 1][0]), by = y(pts[i + 1][1]);
        var dx = bx - ax, dy = by - ay, L = dx * dx + dy * dy || 1;
        var t = Math.max(0, Math.min(1, ((px - ax) * dx + (py - ay) * dy) / L));
        var ex = ax + t * dx - px, ey = ay + t * dy - py, dd = ex * ex + ey * ey;
        if (dd < best) { best = dd; ang = Math.atan2(dy, dx) * 180 / Math.PI; }
      }
    });
    if (ang > 90) ang -= 180;
    if (ang < -90) ang += 180;
    return ang;
  }
  g.selectAll('.clab').data(p.labels).join('text')
    .attr('transform', d => 'translate(' + x(d[1]) + ',' + y(d[2]) + ') rotate(' + angleAt(x(d[1]), y(d[2])).toFixed(1) + ')')
    .attr('text-anchor', 'middle').attr('dominant-baseline', 'central')
    .attr('font-size', 16).attr('font-family', serif).attr('fill', '#111')
    .text(d => d[0]);

  // titles
  g.append('text').attr('x', (x0 + x1) / 2).attr('y', y0 - 11)
    .attr('text-anchor', 'middle').attr('font-size', 16).attr('font-family', serif).attr('fill', '#111')
    .text(iterTitles[p.row]);
  g.append('text').attr('x', (x0 + x1) / 2).attr('y', y1 + 31)
    .attr('text-anchor', 'middle').attr('font-size', 16.5).attr('font-family', serif).attr('fill', '#111')
    .text(xTitle);
  if (p.ylab) {
    g.append('text').attr('transform', 'translate(' + (x0 - 42) + ',' + ((y0 + y1) / 2 - 2) + ') rotate(-90)')
      .attr('text-anchor', 'middle').attr('font-size', 16.5).attr('font-family', serif).attr('fill', '#111')
      .text(yTitle);
  }
});
</script>
</body>
</html>
